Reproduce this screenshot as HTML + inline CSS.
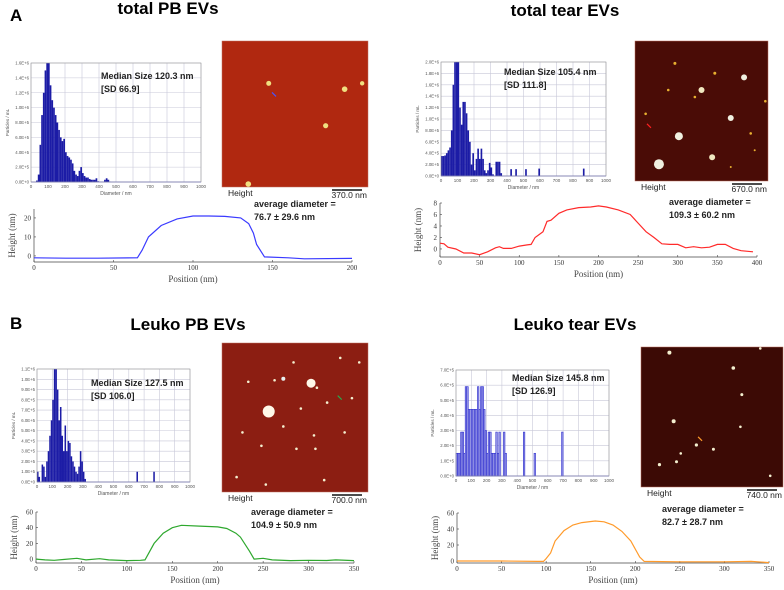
<!DOCTYPE html>
<html><head><meta charset="utf-8">
<style>
html,body{margin:0;padding:0;background:#fff;}
svg{display:block;font-family:"Liberation Sans",sans-serif;}
.t{font-weight:bold;}
.serif{font-family:"Liberation Serif",serif;}
</style></head>
<body>
<svg id="fig" width="784" height="590" viewBox="0 0 784 590">
  <text x="10" y="21" font-size="17" class="t">A</text>
  <text x="168" y="14" font-size="17" class="t" text-anchor="middle">total PB EVs</text>
  <text x="565" y="16" font-size="17" class="t" text-anchor="middle">total tear EVs</text>
  <text x="10" y="329" font-size="17" class="t">B</text>
  <text x="188" y="330" font-size="17" class="t" text-anchor="middle">Leuko PB EVs</text>
  <text x="575" y="330" font-size="17" class="t" text-anchor="middle">Leuko tear EVs</text>
</svg>
<script>
// ---- histogram data (bins of 10 nm starting at 0; values in units of 1E5 particles/mL)
const histBinsNm = 10;
const histPBValues = [0,0,0,0.2,1,5,9,12,15,16,16,13,11,10,9,8,7,6,5.5,5.8,4,3.5,3.3,3,2.5,1.5,1,0.8,1.5,2,1.2,0.8,0.6,0.6,0.4,0.3,0.3,0.3,0.5,0.1,0.05,0.05,0.05,0.3,0.5,0.3,0.05];
const histTearValues = [3.5,3.5,3.6,4,4.5,5,8,16,20,20,20,12,9,13,13,11,8,6,2,4,1,3,4.8,3,4.8,3,1,0.5,1,2.3,1.5,0.3,0,2.5,2.5,2.5,0.5,0,0,0,0,0,1.2,0,0,1.2,0,0,0,0,0,1.2,0,0,0,0,0,0,0,1.3,0,0,0,0,0,0,0,0,0,0,0,0,0,0,0,0,0,0,0,0,0,0,0,0,0,0,1.3];
const histLeukoPBValues = [1,0.5,0,1.7,1.5,0.5,2,3,4.5,6,8,11,11,9,6,7.3,4.5,3,5.5,3,4,3.8,2.5,2,1.5,1,0.8,1.5,3,2,1,0.3,0,0,0,0,0,0,0,0,0,0,0,0,0,0,0,0,0,0,0,0,0,0,0,0,0,0,0,0,0,0,0,0,0,1,0,0,0,0,0,0,0,0,0,0,1];
const histLeukoTearValues = [1.5,1.5,1.5,2.9,2.9,1.5,5.9,5.9,4.4,4.4,4.4,4.4,4.4,4.4,5.9,4.4,5.9,5.9,4.4,3,1.5,2.9,2.9,1.5,1.5,1.5,2.9,1.5,2.9,0,0,2.9,1.5,0,0,0,0,0,0,0,0,0,0,0,2.9,0,0,0,0,0,0,1.5,0,0,0,0,0,0,0,0,0,0,0,0,0,0,0,0,0,2.9];
const histPBTicks = ["0.0E+0","2.0E+5","4.0E+5","6.0E+5","8.0E+5","1.0E+6","1.2E+6","1.4E+6","1.6E+6"];
const histTearTicks = ["0.0E+0","2.0E+5","4.0E+5","6.0E+5","8.0E+5","1.0E+6","1.2E+6","1.4E+6","1.6E+6","1.8E+6","2.0E+6"];
const histLeukoPBTicks = ["0.0E+0","1.0E+5","2.0E+5","3.0E+5","4.0E+5","5.0E+5","6.0E+5","7.0E+5","8.0E+5","9.0E+5","1.0E+6","1.1E+6"];
const histLeukoTearTicks = ["0.0E+0","1.0E+5","2.0E+5","3.0E+5","4.0E+5","5.0E+5","6.0E+5","7.0E+5"];
const histXTicks = [0,100,200,300,400,500,600,700,800,900,1000];
// ---- height profile data
const profPBPos = [0,20,40,65,68,72,80,90,100,110,120,130,135,138,140,145,160,170,200];
const profPBHeight = [-1,-1.2,-1.2,-1,3,10,16,19.5,21,21,20.8,20,17,12,6,-0.5,-1,-1.5,-1.3];
const profTearPos = [0,5,10,20,30,40,50,60,70,75,80,90,100,110,115,120,130,135,140,150,160,175,190,200,210,225,240,250,260,270,280,290,300,310,320,330,340,350,360,370,380,395];
const profTearHeight = [1,0.9,0.3,0,-0.7,-0.7,-1,-0.5,0.2,0.4,0.1,0.1,0.5,0.7,0.8,2,3,4.8,5,6.2,6.8,7.2,7.3,7.5,7.3,6.8,6,4.5,3,2,0.9,0.8,0.8,0.2,0.4,0.2,0.3,0.8,0.8,0.1,-0.3,-0.5];
const profLeukoPBPos = [0,10,20,30,45,55,70,80,100,115,120,130,140,150,160,180,200,210,220,225,235,240,250,260,280,300,320,330,350];
const profLeukoPBHeight = [0,-1,-1.5,-0.5,1,-1,0.5,-1,-2,-1.5,-1,20,33,40,43,42,41,39,33,28,10,0,1,-1,-2,-1.5,-1.8,-1,-2];
const profLeukoTearPos = [0,50,90,97,100,105,110,120,130,140,155,165,175,185,195,205,210,250,300,330,350];
const profLeukoTearHeight = [0,0,-0.5,-0.5,3,10,25,38,45,48,50,49,45,37,25,5,-0.5,-1,-1,-0.5,-2];
const profPBTicksX = [0,50,100,150,200], profPBTicksY = [0,10,20];
const profTearTicksX = [0,50,100,150,200,250,300,350,400], profTearTicksY = [0,2,4,6,8];
const profLeukoTicksX = [0,50,100,150,200,250,300,350], profLeukoTicksY = [0,20,40,60];

const NS = "http://www.w3.org/2000/svg";
const svg = document.getElementById("fig");
function mk(tag, attrs, parent){
  const e = document.createElementNS(NS, tag);
  for (const k in attrs) e.setAttribute(k, attrs[k]);
  (parent||svg).appendChild(e);
  return e;
}
function scale(d0,d1,p0,p1){ return v => p0 + (v-d0)/(d1-d0)*(p1-p0); }

function histogram(name, vals, ticks, tickStep, box, style){
  const g = mk("g", {});
  
  
  const ymax = (ticks.length-1)*tickStep;
  const X = scale(0,1000,box.x0,box.x1), Y = scale(0,ymax,box.y1,box.y0);
  histXTicks.forEach(t => {
    mk("line",{x1:X(t),x2:X(t),y1:box.y0,y2:box.y1,stroke:"#c8c8d8","stroke-width":0.6},g);
    const tl = mk("text",{x:X(t),y:box.y1+6,"font-size":4.5,"text-anchor":"middle",fill:"#555"},g);
    tl.textContent = t;
    
    
  });
  ticks.forEach((lab,i) => {
    const y = Y(i*tickStep);
    mk("line",{x1:box.x0,x2:box.x1,y1:y,y2:y,stroke:"#c8c8d8","stroke-width":0.6},g);
    const tl = mk("text",{x:box.x0-2,y:y+1.5,"font-size":4.3,"text-anchor":"end",fill:"#555"},g);
    tl.textContent = lab;
    
    
  });
  vals.forEach((v,i) => {
    if (v <= 0) return;
    const x0 = X(i*histBinsNm), x1 = X((i+1)*histBinsNm);
    const r = mk("rect",{x:x0,y:Y(v),width:Math.max(x1-x0,0.5),height:Y(0)-Y(v),
      fill:style.fill, stroke:style.stroke||"none","stroke-width":style.sw||0},g);
    
    
  });
  mk("line",{x1:box.x0,x2:box.x1,y1:Y(0),y2:Y(0),stroke:"#4444dd","stroke-width":0.8},g);
  mk("rect",{x:box.x0,y:box.y0,width:box.x1-box.x0,height:box.y1-box.y0,fill:"none",stroke:"#999","stroke-width":0.6},g);
  const xt = mk("text",{x:(box.x0+box.x1)/2,y:box.y1+13,"font-size":5,"text-anchor":"middle",fill:"#555"},g);
  xt.textContent = "Diameter / nm";
  
  
  const yx = box.x0-22, yy=(box.y0+box.y1)/2;
  const yt = mk("text",{x:yx,y:yy,"font-size":4.5,"text-anchor":"middle",fill:"#555",transform:`rotate(-90 ${yx} ${yy})`},g);
  yt.textContent = "Particles / mL";
  
  
  const m1 = mk("text",{x:box.tx,y:box.ty,"font-size":9,"font-weight":"bold",fill:"#222"},g);
  m1.textContent = box.median;
  
  
  const m2 = mk("text",{x:box.tx,y:box.ty+13,"font-size":9,"font-weight":"bold",fill:"#222"},g);
  m2.textContent = box.sd;
  
  
}

function profile(name, pos, h, tx, ty, box, color){
  const g = mk("g", {});
  
  
  const X = scale(box.xd0,box.xd1,box.x0,box.x1), Y = scale(box.yd0,box.yd1,box.y1,box.y0);
  mk("line",{x1:box.x0,x2:box.x0,y1:box.y0,y2:box.y1,stroke:"#444","stroke-width":0.7},g);
  mk("line",{x1:box.x0,x2:box.x1,y1:box.y1,y2:box.y1,stroke:"#444","stroke-width":0.7},g);
  tx.forEach(t => {
    mk("line",{x1:X(t),x2:X(t),y1:box.y1,y2:box.y1-2,stroke:"#444","stroke-width":0.6},g);
    const tl = mk("text",{x:X(t),y:box.y1+8,"font-size":7,"text-anchor":"middle",fill:"#333",class:"serif"},g);
    tl.textContent = t;
    
    
  });
  ty.forEach(t => {
    mk("line",{x1:box.x0,x2:box.x0+2,y1:Y(t),y2:Y(t),stroke:"#444","stroke-width":0.6},g);
    const tl = mk("text",{x:box.x0-3,y:Y(t)+2.5,"font-size":7,"text-anchor":"end",fill:"#333",class:"serif"},g);
    tl.textContent = t;
    
    
  });
  const d = pos.map((p,i)=>(i?"L":"M")+X(p).toFixed(1)+","+Y(h[i]).toFixed(1)).join("");
  const line = mk("path",{d:d,fill:"none",stroke:color,"stroke-width":1.2},g);
  
  
  const xt = mk("text",{x:(box.x0+box.x1)/2,y:box.y1+20,"font-size":9,"text-anchor":"middle",fill:"#444",class:"serif"},g);
  xt.textContent = "Position (nm)";
  
  
  const yx = box.x0-19, yy=(box.y0+box.y1)/2;
  const yt = mk("text",{x:yx,y:yy,"font-size":9,"text-anchor":"middle",fill:"#444",class:"serif",transform:`rotate(-90 ${yx} ${yy})`},g);
  yt.textContent = "Height (nm)";
  
  
}

function afm(name, x, y, w, h, bg, dots, scaleText, arrow, avg, ax, ay){
  const g = mk("g", {});
  
  
  mk("rect",{x:x,y:y,width:w,height:h,fill:bg,stroke:"#c07060","stroke-width":0.5},g);
  dots.forEach(dd => {
    const c = mk("circle",{cx:x+dd[0]*w,cy:y+dd[1]*h,r:dd[2],fill:dd[3]||"#f4f0d0"},g);
    
    
  });
  mk("line",{x1:x+arrow[0]*w,y1:y+arrow[1]*h,x2:x+arrow[0]*w-4,y2:y+arrow[1]*h-4,stroke:arrow[2],"stroke-width":1.2},g);
  const ht = mk("text",{x:x+6,y:y+h+9,"font-size":8.5,fill:"#222"},g);
  ht.textContent = "Height";
  
  
  mk("line",{x1:x+w-36,x2:x+w-6,y1:y+h+3,y2:y+h+3,stroke:"#111","stroke-width":1.5},g);
  const st = mk("text",{x:x+w-1,y:y+h+11,"font-size":8.5,"text-anchor":"end",fill:"#222"},g);
  st.textContent = scaleText;
  
  
  const a1 = mk("text",{x:ax,y:ay,"font-size":9,"font-weight":"bold",fill:"#222"},g);
  a1.textContent = "average diameter =";
  
  
  const a2 = mk("text",{x:ax,y:ay+13,"font-size":9,"font-weight":"bold",fill:"#222"},g);
  a2.textContent = avg;
  
  
}

histogram("histogram-total-pb", histPBValues, histPBTicks, 2, {x0:31,x1:201,y0:63,y1:182,tx:101,ty:79,median:"Median Size 120.3 nm",sd:"[SD 66.9]"}, {fill:"#1c1ca6"});
histogram("histogram-total-tear", histTearValues, histTearTicks, 2, {x0:441,x1:606,y0:62,y1:176,tx:504,ty:75,median:"Median Size 105.4 nm",sd:"[SD 111.8]"}, {fill:"#1c1ca6"});
histogram("histogram-leuko-pb", histLeukoPBValues, histLeukoPBTicks, 1, {x0:37,x1:190,y0:369,y1:482,tx:91,ty:386,median:"Median Size 127.5 nm",sd:"[SD 106.0]"}, {fill:"#1c1ca6"});
histogram("histogram-leuko-tear", histLeukoTearValues, histLeukoTearTicks, 1, {x0:456,x1:609,y0:370,y1:476,tx:512,ty:381,median:"Median Size 145.8 nm",sd:"[SD 126.9]"}, {fill:"#9a9ae6",stroke:"#3030d0",sw:0.6});

profile("profile-total-pb", profPBPos, profPBHeight, profPBTicksX, profPBTicksY, {x0:34,x1:352,y0:209,y1:262,xd0:0,xd1:200,yd0:-3.2,yd1:24.7}, "#3a3aff");
profile("profile-total-tear", profTearPos, profTearHeight, profTearTicksX, profTearTicksY, {x0:440,x1:757,y0:203,y1:257,xd0:0,xd1:400,yd0:-1.4,yd1:8}, "#ff2a2a");
profile("profile-leuko-pb", profLeukoPBPos, profLeukoPBHeight, profLeukoTicksX, profLeukoTicksY, {x0:36,x1:354,y0:512,y1:563,xd0:0,xd1:350,yd0:-5,yd1:60}, "#2ea82e");
profile("profile-leuko-tear", profLeukoTearPos, profLeukoTearHeight, profLeukoTicksX, profLeukoTicksY, {x0:457,x1:769,y0:513,y1:563,xd0:0,xd1:350,yd0:-2.5,yd1:60}, "#ff9a2a");

afm("afm-total-pb",222,41,146,146,"#b02810",[[0.32,0.29,2.5,"#f0e080"],[0.84,0.33,2.8,"#f0e080"],[0.96,0.29,2.2,"#f0e080"],[0.71,0.58,2.6,"#f0e080"],[0.18,0.98,2.8,"#f0e080"]],"370.0 nm",[0.37,0.38,"#4455ff"],"76.7 ± 29.6 nm",254,207);
afm("afm-total-tear",635,41,133,140,"#4a0c06",[[0.18,0.88,5,"#f0f0e0"],[0.33,0.68,4,"#f0f0e0"],[0.58,0.83,3,"#f0e8c0"],[0.72,0.55,3,"#f0f0e0"],[0.82,0.26,3,"#f0f0e0"],[0.5,0.35,3,"#f0e8c0"],[0.3,0.16,1.5,"#e8b030"],[0.6,0.23,1.5,"#e8b030"],[0.45,0.4,1.3,"#e8b030"],[0.87,0.66,1.3,"#e8b030"],[0.08,0.52,1.3,"#e8b030"],[0.25,0.35,1.3,"#e8b030"],[0.98,0.43,1.3,"#e8b030"],[0.9,0.78,1,"#e8b030"],[0.72,0.9,1,"#e8b030"]],"670.0 nm",[0.12,0.62,"#ff2020"],"109.3 ± 60.2 nm",669,205);
afm("afm-leuko-pb",222,343,146,149,"#8c1e12",[[0.32,0.46,6,"#fff8e8"],[0.61,0.27,4.5,"#fff8e8"],[0.42,0.24,2,"#e8f0f0"],[0.36,0.25,1.3],[0.49,0.13,1.3],[0.65,0.3,1.3],[0.81,0.1,1.3],[0.89,0.37,1.3],[0.72,0.4,1.3],[0.54,0.44,1.3],[0.14,0.6,1.3],[0.42,0.56,1.3],[0.27,0.69,1.3],[0.63,0.62,1.3],[0.84,0.6,1.3],[0.1,0.9,1.3],[0.3,0.95,1.3],[0.7,0.92,1.3],[0.51,0.71,1.3],[0.18,0.26,1.3],[0.64,0.71,1.3],[0.94,0.13,1.3]],"700.0 nm",[0.82,0.38,"#20b050"],"104.9 ± 50.9 nm",251,515);
afm("afm-leuko-tear",641,347,142,140,"#3c0a05",[[0.2,0.04,2],[0.65,0.15,1.8],[0.71,0.34,1.5],[0.23,0.53,2],[0.7,0.57,1.3],[0.39,0.7,1.6],[0.51,0.73,1.5],[0.28,0.76,1.3],[0.13,0.84,1.6],[0.25,0.82,1.5],[0.91,0.92,1.3],[0.84,0.01,1.3]],"740.0 nm",[0.43,0.67,"#ff9a2a"],"82.7 ± 28.7 nm",662,512);
</script>
</body></html>
